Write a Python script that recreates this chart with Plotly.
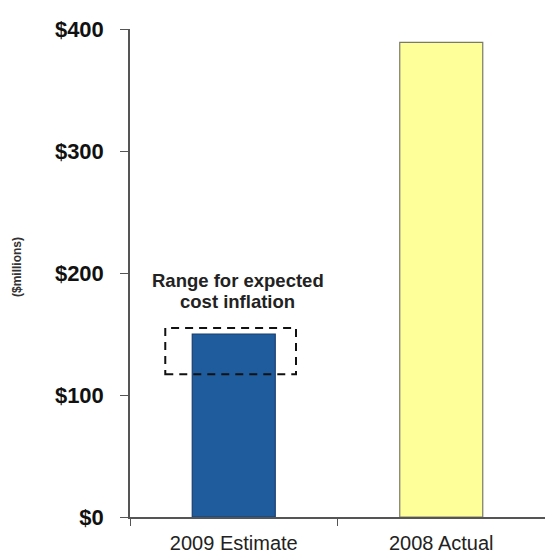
import plotly.graph_objects as go

# Chart data
categories = ["2009 Estimate", "2008 Actual"]
values = [150, 389]
bar_colors = ["#1F5C9E", "#FFFF99"]
bar_outline = ["#173F6E", "#7A7A6A"]
inflation_low = 117
inflation_high = 155
tick_values = [0, 100, 200, 300, 400]
tick_labels = ["$0", "$100", "$200", "$300", "$400"]
range_label_lines = ["Range for expected", "cost inflation"]

FONT = "Liberation Sans, Arial, Helvetica"

fig = go.Figure()

fig.add_trace(go.Bar(
    x=categories,
    y=values,
    width=0.4,
    marker=dict(color=bar_colors, line=dict(color=bar_outline, width=1.2)),
    hoverinfo="x+y",
))

# Dashed range box for expected cost inflation around the estimate bar
fig.add_shape(
    type="rect", xref="x", yref="y",
    x0=-0.33, x1=0.30, y0=inflation_low, y1=inflation_high,
    line=dict(color="#111111", width=2, dash="8px,6px"),
    fillcolor="rgba(0,0,0,0)", layer="above",
)

# Two-line label above the range box (tight line spacing)
for i, line in enumerate(range_label_lines):
    fig.add_annotation(
        x=0.02, y=inflation_high, xref="x", yref="y",
        text=f"<b>{line}</b>",
        showarrow=False, yanchor="middle", borderpad=0,
        yshift=47 - 21 * i,
        font=dict(family=FONT, size=18.5, color="#222222"),
    )

fig.add_annotation(
    x=-0.272, y=205, xref="paper", yref="y",
    xanchor="center", yanchor="middle",
    text="<b>($millions)</b>", textangle=-90, showarrow=False,
    font=dict(family=FONT, size=12, color="#333333"),
)

fig.update_layout(
    width=545, height=554,
    margin=dict(l=130, r=0, t=29, b=37),
    paper_bgcolor="white", plot_bgcolor="white",
    showlegend=False,
)

fig.update_yaxes(
    range=[0, 400],
    tickvals=tick_values, ticktext=tick_labels,
    showgrid=False, zeroline=False,
    showline=True, linecolor="#555555", linewidth=1.5,
    ticks="outside", ticklen=8, tickcolor="#555555", tickwidth=1.2,
    tickfont=dict(family=FONT, size=22, color="#111111", weight="bold"),
    ticklabelstandoff=12,
)

fig.update_xaxes(
    showgrid=False, zeroline=False,
    showline=True, linecolor="#555555", linewidth=1.5,
    ticks="outside", ticklen=7, tickcolor="#555555", tickwidth=1.2,
    tickson="boundaries",
    tickfont=dict(family=FONT, size=20, color="#222222"),
    ticklabelstandoff=7,
    range=[-0.5, 1.5],
)

fig.write_html("out.html")
